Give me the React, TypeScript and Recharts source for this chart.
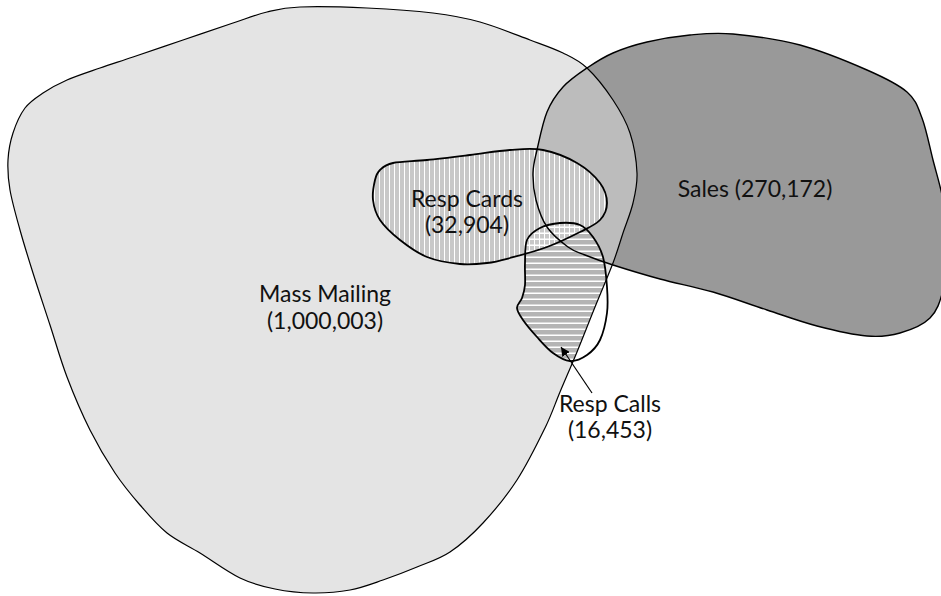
import React from "react";
import { ScatterChart, Scatter, XAxis, YAxis } from "recharts";

type Pt = { x: number; y: number };

// outlines, traced in picture coordinates (y grows downward)
const massMailing: Pt[] = [
  { x: 300, y: 7 }, { x: 367, y: 8 }, { x: 433, y: 13 }, { x: 480, y: 22 },
  { x: 530, y: 40 }, { x: 563, y: 53 }, { x: 587, y: 68 }, { x: 613, y: 100 },
  { x: 630, y: 133 }, { x: 637, y: 173 }, { x: 633, y: 203 }, { x: 623, y: 233 },
  { x: 613, y: 263 }, { x: 595, y: 307 }, { x: 577, y: 352 }, { x: 560, y: 392 },
  { x: 545, y: 428 }, { x: 517, y: 480 }, { x: 483, y: 523 }, { x: 450, y: 552 },
  { x: 417, y: 567 }, { x: 383, y: 580 }, { x: 350, y: 590 }, { x: 313, y: 593 },
  { x: 275, y: 589 }, { x: 240, y: 578 }, { x: 200, y: 553 }, { x: 167, y: 533 },
  { x: 140, y: 505 }, { x: 115, y: 473 }, { x: 90, y: 430 }, { x: 67, y: 377 },
  { x: 50, y: 325 }, { x: 33, y: 273 }, { x: 20, y: 230 }, { x: 10, y: 190 },
  { x: 8, y: 160 }, { x: 13, y: 133 }, { x: 25, y: 108 }, { x: 43, y: 93 },
  { x: 67, y: 80 }, { x: 100, y: 68 }, { x: 133, y: 57 }, { x: 183, y: 40 },
  { x: 233, y: 23 }, { x: 267, y: 12 },
];

const sales: Pt[] = [
  { x: 613, y: 53 }, { x: 647, y: 42 }, { x: 690, y: 35 }, { x: 733, y: 34 },
  { x: 800, y: 45 }, { x: 867, y: 70 }, { x: 907, y: 92 }, { x: 922, y: 118 },
  { x: 933, y: 160 }, { x: 943, y: 200 }, { x: 948, y: 245 }, { x: 943, y: 290 },
  { x: 930, y: 318 }, { x: 900, y: 333 }, { x: 867, y: 336 }, { x: 817, y: 326 },
  { x: 767, y: 310 }, { x: 713, y: 292 }, { x: 660, y: 279 }, { x: 613, y: 265 },
  { x: 585, y: 255 }, { x: 568, y: 247 }, { x: 547, y: 227 }, { x: 536, y: 200 },
  { x: 533, y: 173 }, { x: 537, y: 150 }, { x: 547, y: 112 }, { x: 563, y: 87 },
  { x: 587, y: 68 },
];

const respCards: Pt[] = [
  { x: 380, y: 170 }, { x: 393, y: 163 }, { x: 427, y: 160 }, { x: 470, y: 155 },
  { x: 510, y: 150 }, { x: 543, y: 150 }, { x: 577, y: 163 }, { x: 600, y: 183 },
  { x: 607, y: 203 }, { x: 600, y: 220 }, { x: 580, y: 232 }, { x: 547, y: 247 },
  { x: 510, y: 258 }, { x: 487, y: 263 }, { x: 460, y: 264 }, { x: 427, y: 257 },
  { x: 400, y: 240 }, { x: 380, y: 220 }, { x: 373, y: 200 }, { x: 375, y: 180 },
];

const respCalls: Pt[] = [
  { x: 527, y: 240 }, { x: 540, y: 228 }, { x: 560, y: 223 }, { x: 580, y: 225 },
  { x: 593, y: 237 }, { x: 603, y: 257 }, { x: 607, y: 287 }, { x: 607, y: 313 },
  { x: 600, y: 340 }, { x: 587, y: 355 }, { x: 570, y: 361 }, { x: 553, y: 353 },
  { x: 537, y: 337 }, { x: 523, y: 320 }, { x: 517, y: 308 }, { x: 522, y: 298 },
  { x: 525, y: 285 }, { x: 525, y: 263 },
];

const callsArrow: Pt[] = [{ x: 592, y: 393 }, { x: 561, y: 347 }];

// one entry per text line (baseline position)
const labels = [
  { x: 325, y: 302, text: "Mass Mailing" },
  { x: 325, y: 329, text: "(1,000,003)" },
  { x: 467, y: 207, text: "Resp Cards" },
  { x: 467, y: 233, text: "(32,904)" },
  { x: 755, y: 197, text: "Sales (270,172)" },
  { x: 610, y: 412, text: "Resp Calls" },
  { x: 610, y: 438, text: "(16,453)" },
];

const FONT = "Lato, sans-serif";

// closed catmull-rom through the scaled points
function closedPath(pts: { x: number; y: number }[]) {
  const n = pts.length;
  let d = `M${pts[0].x},${pts[0].y}`;
  for (let i = 0; i < n; i++) {
    const p0 = pts[(i - 1 + n) % n];
    const p1 = pts[i];
    const p2 = pts[(i + 1) % n];
    const p3 = pts[(i + 2) % n];
    const c1x = p1.x + (p2.x - p0.x) / 6;
    const c1y = p1.y + (p2.y - p0.y) / 6;
    const c2x = p2.x - (p3.x - p1.x) / 6;
    const c2y = p2.y - (p3.y - p1.y) / 6;
    d += ` C${c1x},${c1y} ${c2x},${c2y} ${p2.x},${p2.y}`;
  }
  return d + " Z";
}

const blob =
  (style: React.SVGProps<SVGPathElement>, clipId?: string) =>
  (props: any) => {
    const d = closedPath(props.points);
    return (
      <g>
        {clipId && (
          <defs>
            <clipPath id={clipId}>
              <path d={d} />
            </clipPath>
          </defs>
        )}
        <path d={d} {...style} />
      </g>
    );
  };

const arrowLine = (props: any) => {
  const [a, b] = props.points;
  return (
    <path
      d={`M${a.x},${a.y} L${b.x},${b.y}`}
      stroke="#000"
      strokeWidth={1.2}
      fill="none"
      markerEnd="url(#arrowHead)"
    />
  );
};

const noDot = () => <g />;

const labelShape = (props: any) => {
  const { cx, cy, payload } = props;
  return (
    <text x={cx} y={cy} textAnchor="middle" fontFamily={FONT} fontSize={23} fill="#111">
      {payload.text}
    </text>
  );
};

export default function App() {
  return (
    <div style={{ position: "absolute", left: 0, top: 0 }}>
      <svg width={0} height={0} style={{ position: "absolute" }}>
        <defs>
          <pattern id="cardsHatch" patternUnits="userSpaceOnUse" width={5} height={5}>
            <rect width={5} height={5} fill="#c8c8c8" />
            <rect x={4} width={1.2} height={5} fill="#fff" />
          </pattern>
          <pattern id="callsHatch" patternUnits="userSpaceOnUse" width={6} height={6}>
            <rect y={4.5} width={6} height={1.5} fill="#fff" />
          </pattern>
          <marker
            id="arrowHead"
            viewBox="0 0 10 10"
            refX={10}
            refY={5}
            markerWidth={9}
            markerHeight={9}
            markerUnits="userSpaceOnUse"
            orient="auto"
          >
            <path d="M0,0 L10,5 L0,10 Z" fill="#000" />
          </marker>
        </defs>
      </svg>
      <ScatterChart width={941} height={596} margin={{ top: 0, right: 0, bottom: 0, left: 0 }}>
        <XAxis type="number" dataKey="x" domain={[0, 941]} allowDataOverflow hide />
        <YAxis type="number" dataKey="y" domain={[0, 596]} allowDataOverflow reversed hide />

        {/* fills */}
        <Scatter data={massMailing} shape={noDot} isAnimationActive={false}
          line={blob({ fill: "#e4e4e4", stroke: "none" }, "mmClip")} />
        <Scatter data={sales} shape={noDot} isAnimationActive={false}
          line={blob({ fill: "#999999", stroke: "none" }, "salesClip")} />
        <Scatter data={massMailing} shape={noDot} isAnimationActive={false}
          line={blob({ fill: "#bcbcbc", stroke: "none", clipPath: "url(#salesClip)" })} />
        <Scatter data={respCalls} shape={noDot} isAnimationActive={false}
          line={blob({ fill: "#b4b4b4", stroke: "none", clipPath: "url(#mmClip)" })} />
        <Scatter data={respCards} shape={noDot} isAnimationActive={false}
          line={blob({ fill: "url(#cardsHatch)", stroke: "none" })} />
        <Scatter data={respCalls} shape={noDot} isAnimationActive={false}
          line={blob({ fill: "url(#callsHatch)", stroke: "none", clipPath: "url(#mmClip)" })} />

        {/* outlines */}
        <Scatter data={massMailing} shape={noDot} isAnimationActive={false}
          line={blob({ fill: "none", stroke: "#000", strokeWidth: 1.2 })} />
        <Scatter data={sales} shape={noDot} isAnimationActive={false}
          line={blob({ fill: "none", stroke: "#000", strokeWidth: 1.4 })} />
        <Scatter data={respCards} shape={noDot} isAnimationActive={false}
          line={blob({ fill: "none", stroke: "#000", strokeWidth: 1.8 })} />
        <Scatter data={respCalls} shape={noDot} isAnimationActive={false}
          line={blob({ fill: "none", stroke: "#000", strokeWidth: 1.8 })} />

        <Scatter data={callsArrow} shape={noDot} isAnimationActive={false} line={arrowLine} />
        <Scatter data={labels} shape={labelShape} isAnimationActive={false} />
      </ScatterChart>
    </div>
  );
}
